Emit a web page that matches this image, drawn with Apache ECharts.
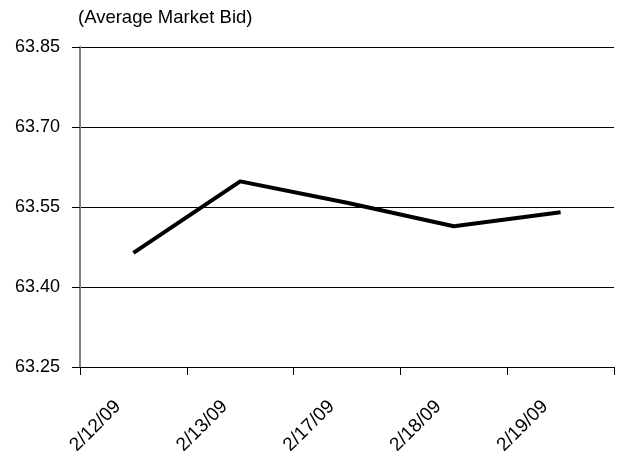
<!DOCTYPE html>
<html>
<head>
<meta charset="utf-8">
<script src="https://cdn.jsdelivr.net/npm/echarts@6/dist/echarts.min.js"></script>
<style>
  html, body { margin: 0; padding: 0; background: #fff; }
  #chart { width: 618px; height: 459px; }
</style>
</head>
<body>
<div id="chart"></div>
<script>
// Trading dates and average market bid for each day
const dates = ['2/12/09', '2/13/09', '2/17/09', '2/18/09', '2/19/09'];
const avgBid = [63.464, 63.598, 63.558, 63.514, 63.540];

// Value-axis range and tick spacing
const axisMin = 63.25;
const axisMax = 63.85;
const axisStep = 0.15;

const FONT = 'Liberation Sans, Arial, sans-serif';

// The value axis is laid out relative to axisMin so ticks start exactly on it
const relBid = avgBid.map(v => v - axisMin);

const chart = echarts.init(document.getElementById('chart'), null, { renderer: 'canvas' });
chart.setOption({
  animation: false,
  backgroundColor: '#ffffff',
  title: {
    text: '(Average Market Bid)',
    left: 73,
    top: 3,
    textStyle: { fontFamily: FONT, fontSize: 18.5, fontWeight: 'normal', color: '#000' }
  },
  grid: { left: 80, right: 4, top: 47, bottom: 92, containLabel: false },
  xAxis: {
    type: 'category',
    data: dates,
    boundaryGap: true,
    axisLine: { show: true, lineStyle: { color: '#000', width: 1 } },
    axisTick: { show: true, length: 8, alignWithLabel: false, lineStyle: { color: '#000', width: 1 } },
    axisLabel: {
      rotate: 45,
      interval: 0,
      margin: 21,
      fontFamily: FONT,
      fontSize: 19,
      color: '#000',
      padding: [0, 22, 0, 0]
    },
    splitLine: { show: false }
  },
  yAxis: {
    type: 'value',
    position: 'left',
    min: 0,
    max: axisMax - axisMin,
    interval: axisStep,
    axisLine: { show: true, onZero: false, lineStyle: { color: '#808080', width: 2 } },
    axisTick: { show: true, inside: false, interval: 0, length: 8, lineStyle: { color: '#000', width: 1 } },
    axisLabel: {
      margin: 20,
      fontFamily: FONT,
      fontSize: 18,
      color: '#000',
      formatter: v => (v + axisMin).toFixed(2)
    },
    splitLine: { show: true, lineStyle: { color: '#000', width: 1 } }
  },
  series: [{
    type: 'line',
    data: relBid,
    symbol: 'none',
    lineStyle: { color: '#000', width: 4 },
    itemStyle: { color: '#000' }
  }]
});
</script>
</body>
</html>
